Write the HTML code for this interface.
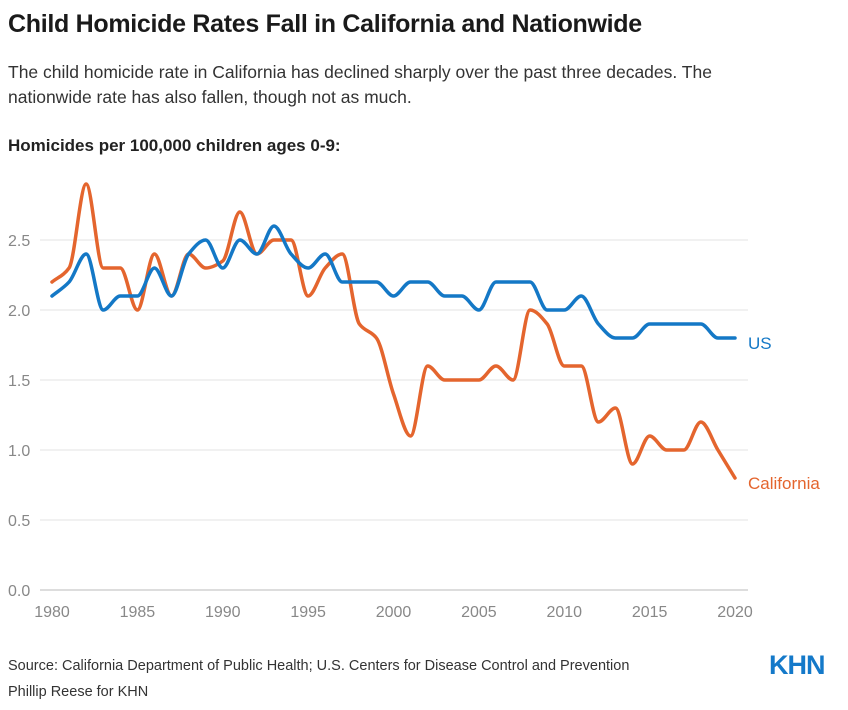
<!DOCTYPE html>
<html><head><meta charset="utf-8"><style>
body{margin:0;width:848px;height:710px;background:#fff;font-family:"Liberation Sans",sans-serif;color:#222;overflow:hidden;position:relative}
.t{position:absolute;left:8px;margin:0}
</style></head><body>
<h1 class="t" style="top:10px;font-size:25px;font-weight:bold;color:#1a1a1a;letter-spacing:-0.3px">Child Homicide Rates Fall in California and Nationwide</h1>
<p class="t" style="top:60px;font-size:17.5px;line-height:25px;color:#333;width:790px">The child homicide rate in California has declined sharply over the past three decades. The nationwide rate has also fallen, though not as much.</p>
<p class="t" style="top:136px;font-size:17px;font-weight:bold;color:#222">Homicides per 100,000 children ages 0-9:</p>
<svg id="c" width="848" height="710" style="position:absolute;left:0;top:0"></svg>
<p class="t" style="top:658px;font-size:14.5px;color:#333">Source: California Department of Public Health; U.S. Centers for Disease Control and Prevention</p>
<p class="t" style="top:684px;font-size:14.5px;color:#333">Phillip Reese for KHN</p>
<div style="position:absolute;left:769px;top:650px;font-size:27px;font-weight:bold;color:#1479c9;letter-spacing:-1px">KHN</div>
<script>
const years=[];for(let y=1980;y<=2020;y++)years.push(y);
const caValues=[2.2,2.3,2.9,2.3,2.3,2.0,2.4,2.1,2.4,2.3,2.35,2.7,2.4,2.5,2.5,2.1,2.3,2.4,1.9,1.8,1.4,1.1,1.6,1.5,1.5,1.5,1.6,1.5,2.0,1.9,1.6,1.6,1.2,1.3,0.9,1.1,1.0,1.0,1.2,1.0,0.8];
const usValues=[2.1,2.2,2.4,2.0,2.1,2.1,2.3,2.1,2.4,2.5,2.3,2.5,2.4,2.6,2.4,2.3,2.4,2.2,2.2,2.2,2.1,2.2,2.2,2.1,2.1,2.0,2.2,2.2,2.2,2.0,2.0,2.1,1.9,1.8,1.8,1.9,1.9,1.9,1.9,1.8,1.8];
const yTicks=[0,0.5,1,1.5,2,2.5];
const xTicks=[1980,1985,1990,1995,2000,2005,2010,2015,2020];
const svg=document.getElementById('c'),NS='http://www.w3.org/2000/svg';
const X=v=>52+(v-1980)*(735-52)/40, Y=v=>590-v*140;
function mk(t,a){const e=document.createElementNS(NS,t);for(const k in a)e.setAttribute(k,a[k]);svg.appendChild(e);return e;}
yTicks.forEach(v=>{const l=mk('line',{x1:40,x2:748,y1:Y(v),y2:Y(v),stroke:v===0?'#bbb':'#e3e3e3','stroke-width':1});


const t=mk('text',{x:8,y:Y(v)+6,'font-size':16,fill:'#888','font-family':'Liberation Sans'});t.textContent=v.toFixed(1);

});
xTicks.forEach(v=>{const t=mk('text',{x:X(v),y:617,'font-size':16,fill:'#888','text-anchor':'middle','font-family':'Liberation Sans'});t.textContent=v;

});
function mono(xs,ys){const n=xs.length,d=[],m=[];for(let i=0;i<n-1;i++)d.push((ys[i+1]-ys[i])/(xs[i+1]-xs[i]));
m[0]=d[0];m[n-1]=d[n-2];for(let i=1;i<n-1;i++){m[i]=(d[i-1]*d[i]<=0)?0:2/(1/d[i-1]+1/d[i]);}
let p='M'+xs[0]+','+ys[0];for(let i=0;i<n-1;i++){const h=(xs[i+1]-xs[i])/3;p+='C'+(xs[i]+h)+','+(ys[i]+m[i]*h)+' '+(xs[i+1]-h)+','+(ys[i+1]-m[i+1]*h)+' '+xs[i+1]+','+ys[i+1];}return p;}
function series(vals,col,name,label,ly){const p=mk('path',{d:mono(years.map(X),vals.map(Y)),fill:'none',stroke:col,'stroke-width':3.5,'stroke-linejoin':'round','stroke-linecap':'round'});


const t=mk('text',{x:748,y:Y(vals[vals.length-1])+ly,'font-size':17,fill:col,'font-family':'Liberation Sans'});t.textContent=label;

}
series(caValues,'#e4652e','california','California',11);
series(usValues,'#1478c6','us','US',11);
</script>
</body></html>
